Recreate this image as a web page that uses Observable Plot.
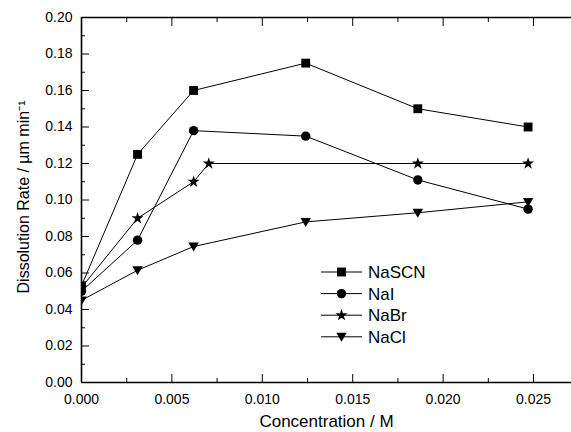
<!DOCTYPE html>
<html>
<head>
<meta charset="utf-8">
<script src="https://cdn.jsdelivr.net/npm/d3@7"></script>
<script src="https://cdn.jsdelivr.net/npm/@observablehq/plot@0.6"></script>
<style>
  html, body { margin: 0; padding: 0; background: #fff; }
  svg { display: block; }
</style>
</head>
<body>
<div id="chart"></div>
<script>
// ---- data ----
const seriesNames = ["NaSCN", "NaI", "NaBr", "NaCl"];
const concStd = [0, 0.0031, 0.0062, 0.0124, 0.0186, 0.0247];
const concNaBr = [0, 0.0031, 0.0062, 0.00704, 0.0186, 0.0247];
const naSCN = [0.053, 0.125, 0.160, 0.175, 0.150, 0.140];
const naI   = [0.050, 0.078, 0.138, 0.135, 0.111, 0.095];
const naBr  = [0.052, 0.090, 0.110, 0.120, 0.120, 0.120];
const naCl  = [0.045, 0.0615, 0.0745, 0.088, 0.093, 0.099];
const yTicksMajor = [0, 0.02, 0.04, 0.06, 0.08, 0.10, 0.12, 0.14, 0.16, 0.18, 0.20];
const yTicksMinor = [0.01, 0.03, 0.05, 0.07, 0.09, 0.11, 0.13, 0.15, 0.17, 0.19];
const xTicksMajor = [0, 0.005, 0.010, 0.015, 0.020, 0.025];
const xTicksMinor = [0.0025, 0.0075, 0.0125, 0.0175, 0.0225];
const xTitle = "Concentration / M";
const yTitle = "Dissolution Rate / µm min⁻¹";

const triDown = {
  draw(ctx, size) {
    const s = Math.sqrt(size) / 10;
    ctx.moveTo(-5.6 * s, -4.2 * s);
    ctx.lineTo(5.6 * s, -4.2 * s);
    ctx.lineTo(0, 5.4 * s);
    ctx.closePath();
  }
};

const specs = [
  {name: seriesNames[0], xs: concStd, ys: naSCN, symbol: d3.symbolSquare, r: 5.0},
  {name: seriesNames[1], xs: concStd, ys: naI, symbol: d3.symbolCircle, r: 4.7},
  {name: seriesNames[2], xs: concNaBr, ys: naBr, symbol: d3.symbolStar, r: 3.8},
  {name: seriesNames[3], xs: concStd, ys: naCl, symbol: triDown, r: 5.3}
];
const tables = specs.map(s => s.xs.map((x, i) => ({series: s.name, x, y: s.ys[i]})));

const marks = [];
specs.forEach((s, k) => {
  marks.push(Plot.line(tables[k], {x: "x", y: "y", stroke: "#000", strokeWidth: 1, clip: true}));
});
specs.forEach((s, k) => {
  marks.push(Plot.dot(tables[k], {x: "x", y: "y", symbol: s.symbol, r: s.r, fill: "#000", stroke: "none", clip: true}));
});

marks.push(
  Plot.axisY(yTicksMajor, {anchor: "left", tickSize: -8, tickPadding: 17, tickFormat: d3.format(".2f"), label: null, fontSize: 14}),
  Plot.axisY(yTicksMinor, {anchor: "left", tickSize: -4, tickFormat: () => "", label: null}),
  Plot.axisX(xTicksMajor, {anchor: "bottom", tickSize: -8, tickPadding: 20, tickFormat: d3.format(".3f"), label: null, fontSize: 14}),
  Plot.axisX(xTicksMinor, {anchor: "bottom", tickSize: -4, tickFormat: () => "", label: null}),
  Plot.axisX(xTicksMajor, {anchor: "top", tickSize: -8, tickFormat: () => "", label: null}),
  Plot.axisX(xTicksMinor, {anchor: "top", tickSize: -4, tickFormat: () => "", label: null}),
  Plot.ruleX([0], {stroke: "#000", strokeWidth: 1.6}),
  Plot.ruleY([0, 0.2], {stroke: "#000", strokeWidth: 1.6}),
  Plot.text([xTitle], {frameAnchor: "bottom", dy: 39, fontSize: 17, fill: "#000", textAnchor: "middle", lineAnchor: "middle"}),
  Plot.text([yTitle], {frameAnchor: "left", dx: -58, dy: -3, rotate: -90, fontSize: 16, fill: "#000", textAnchor: "middle", lineAnchor: "middle"})
);

const chart = Plot.plot({
  width: 571,
  height: 432,
  marginLeft: 81,
  marginRight: 0,
  marginTop: 17,
  marginBottom: 50,
  style: {fontFamily: "'Liberation Sans', Arial, Helvetica, sans-serif", fontSize: "14px", color: "#000", background: "#fff"},
  x: {domain: [0, 0.0271]},
  y: {domain: [0, 0.2]},
  marks
});
document.getElementById("chart").appendChild(chart);

// ---- legend inside the plot area ----
const svg = d3.select(chart);
const lg = svg.append("g").attr("font-family", "'Liberation Sans', Arial, sans-serif").attr("font-size", 17).attr("text-anchor", "start");
const legendX = 321, legendY = 272, rowH = 21.6, lineLen = 41;
specs.forEach((s, i) => {
  const y = legendY + i * rowH;
  lg.append("line").attr("x1", legendX).attr("x2", legendX + lineLen).attr("y1", y).attr("y2", y)
    .attr("stroke", "#000").attr("stroke-width", 1);
  lg.append("path").attr("transform", `translate(${legendX + lineLen / 2},${y})`)
    .attr("d", d3.symbol(s.symbol, s.r * s.r * Math.PI)()).attr("fill", "#000");
  lg.append("text").attr("x", legendX + lineLen + 6).attr("y", y).attr("dy", "0.36em")
    .attr("text-anchor", "start").attr("fill", "#000").text(s.name);
});
</script>
</body>
</html>
